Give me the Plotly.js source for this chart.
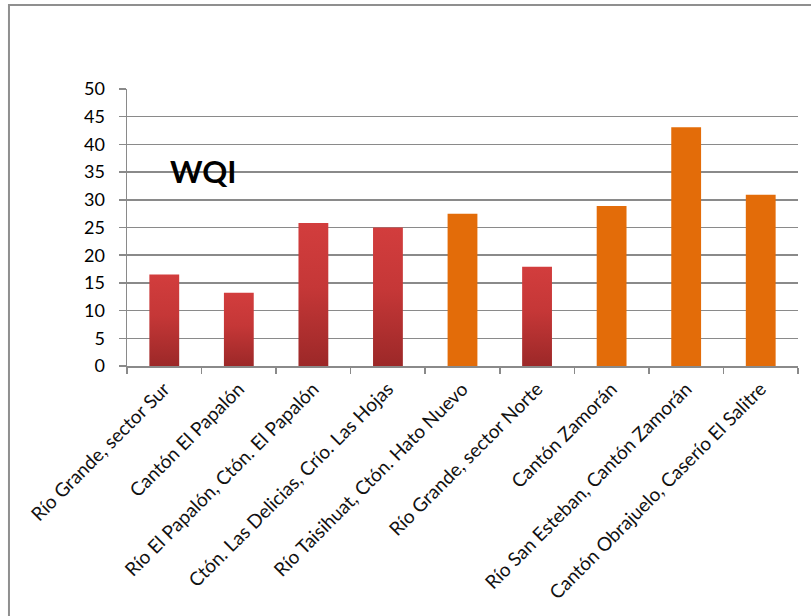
<!DOCTYPE html>
<html>
<head>
<meta charset="utf-8">
<script src="https://cdn.plot.ly/plotly-3.0.1.min.js"></script>
<style>
  html, body { margin: 0; padding: 0; background: #ffffff; }
  #chart { width: 811px; height: 616px; }
</style>
</head>
<body>
<div id="chart"></div>
<script>
// Sampling sites along the river network
const sitios = [
  "Río Grande, sector Sur",
  "Cantón El Papalón",
  "Río El Papalón, Ctón. El Papalón",
  "Ctón. Las Delicias, Crío. Las Hojas",
  "Río Taisihuat, Ctón. Hato Nuevo",
  "Río Grande, sector Norte",
  "Cantón Zamorán",
  "Río San Esteban, Cantón Zamorán",
  "Cantón Obrajuelo, Caserío El Salitre"
];

// Water quality index per site
const wqi = [16.5, 13.2, 25.8, 25.0, 27.5, 17.9, 28.9, 43.1, 30.9];

// Quality class per site ("mala" = red, "regular" = orange)
const clase = ["mala", "mala", "mala", "mala", "regular", "mala", "regular", "regular", "regular"];

const yTicks = [0, 5, 10, 15, 20, 25, 30, 35, 40, 45, 50];

const ROJO = "#c23434";
const NARANJA = "#e36c09";
const colores = clase.map(c => c === "mala" ? ROJO : NARANJA);

const fuente = "Lato, 'Open Sans', sans-serif";

const trace = {
  type: "bar",
  x: sitios,
  y: wqi,
  marker: { color: colores, line: { width: 0 } },
  hoverinfo: "x+y"
};

const layout = {
  width: 811,
  height: 616,
  margin: { l: 127, r: 13, t: 89, b: 250 },
  paper_bgcolor: "#ffffff",
  plot_bgcolor: "#ffffff",
  showlegend: false,
  bargap: 0.6,
  font: { family: fuente, color: "#000000", size: 16 },
  xaxis: {
    type: "category",
    tickangle: -45,
    tickson: "boundaries",
    ticks: "outside",
    ticklen: 6,
    tickcolor: "#8a8a8a",
    tickwidth: 1.5,
    showline: true,
    linecolor: "#8a8a8a",
    linewidth: 1.5,
    showgrid: false,
    ticklabelstandoff: 3,
    tickfont: { family: fuente, size: 19, color: "#111111" }
  },
  yaxis: {
    range: [0, 50],
    tickvals: yTicks,
    ticktext: yTicks.map(String),
    ticks: "outside",
    ticklen: 7,
    tickcolor: "#8a8a8a",
    tickwidth: 1.5,
    showline: true,
    linecolor: "#8a8a8a",
    linewidth: 1.5,
    showgrid: true,
    gridcolor: "#8a8a8a",
    gridwidth: 1.5,
    zeroline: false,
    ticklabelstandoff: 10,
    tickfont: { family: fuente, size: 18, color: "#000000" }
  },
  annotations: [{
    text: "<b>WQI</b>",
    xref: "paper", yref: "paper",
    x: 0.061, y: 0.705,
    xanchor: "left", yanchor: "middle",
    showarrow: false,
    font: { family: fuente, size: 31, color: "#000000" }
  }],
  shapes: [{
    type: "rect",
    xref: "paper", yref: "paper",
    x0: -0.1759, x1: 2, y0: -2, y1: 1.303,
    line: { color: "#8f8f8f", width: 2 },
    fillcolor: "rgba(0,0,0,0)",
    layer: "below"
  }]
};

Plotly.newPlot("chart", [trace], layout, { displayModeBar: false, staticPlot: true }).then(gd => {
  // Vertical shading on the red bars, lighter at the top
  const svg = gd.querySelector(".main-svg");
  const NS = "http://www.w3.org/2000/svg";
  let defs = svg.querySelector("defs");
  if (!defs) { defs = document.createElementNS(NS, "defs"); svg.insertBefore(defs, svg.firstChild); }
  const grad = document.createElementNS(NS, "linearGradient");
  grad.setAttribute("id", "degradadoRojo");
  grad.setAttribute("x1", "0"); grad.setAttribute("y1", "0");
  grad.setAttribute("x2", "0"); grad.setAttribute("y2", "1");
  [["0%", "#d23d3d"], ["45%", "#c53737"], ["100%", "#9c2828"]].forEach(([o, c]) => {
    const s = document.createElementNS(NS, "stop");
    s.setAttribute("offset", o);
    s.setAttribute("stop-color", c);
    grad.appendChild(s);
  });
  defs.appendChild(grad);
  const barras = gd.querySelectorAll(".barlayer .point path");
  barras.forEach((p, i) => {
    if (clase[i] === "mala") p.style.fill = "url(#degradadoRojo)";
  });
});
</script>
</body>
</html>
